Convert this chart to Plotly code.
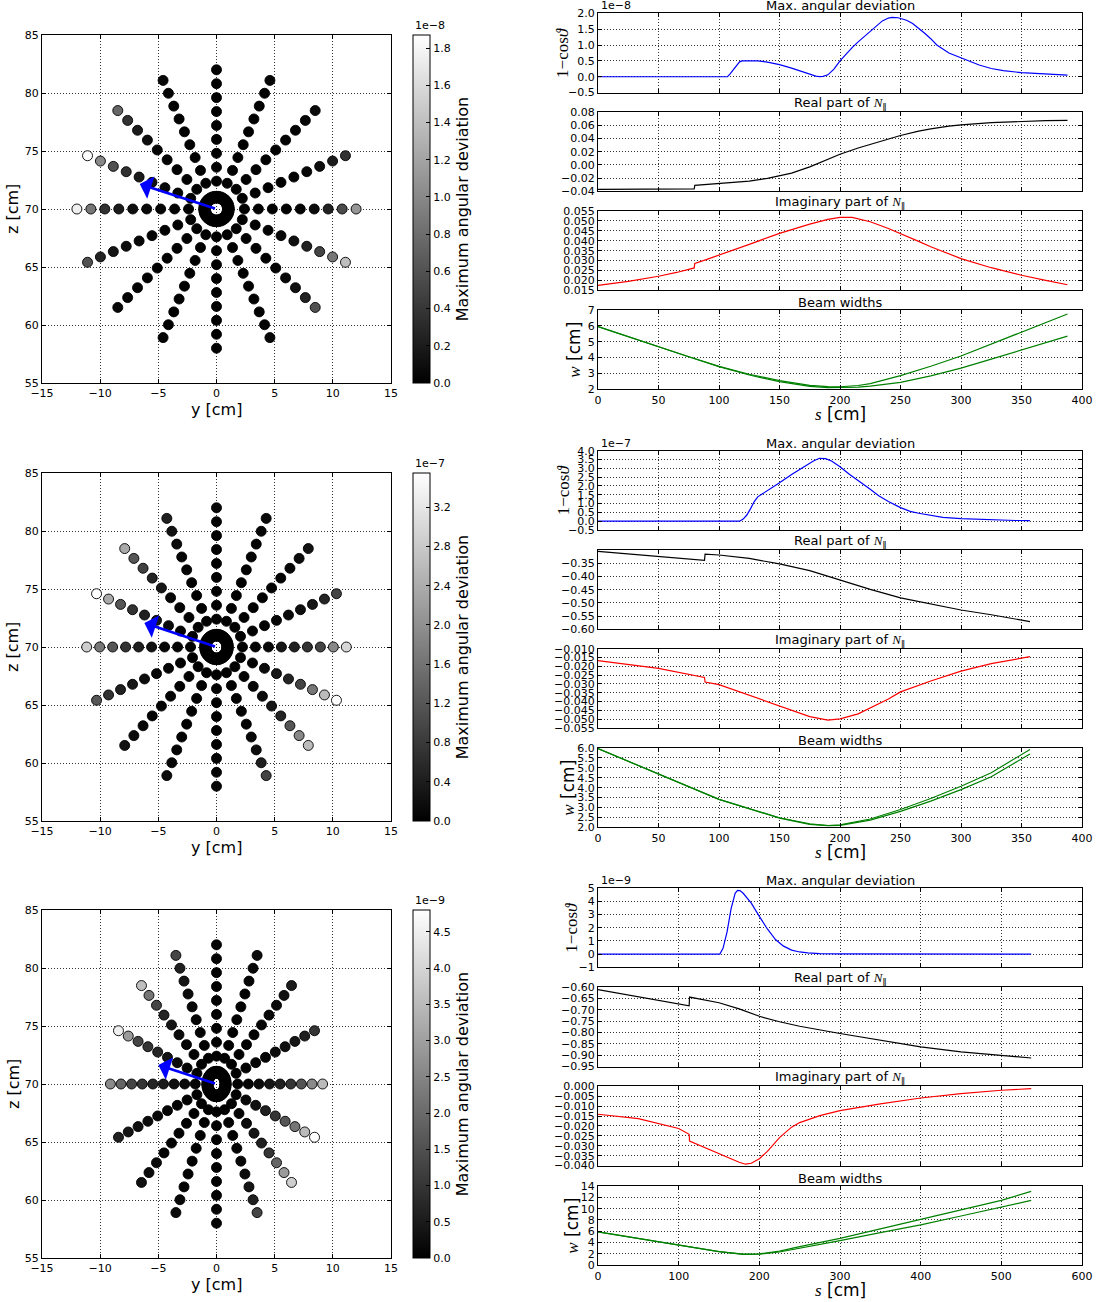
import math
import plotly.graph_objects as go

W, H = 1107, 1302
FONT = "DejaVu Sans"
SERIF = "Liberation Serif"

# ------------------------------------------------------------------ data
# launcher grid (y, z in cm): 16 rays x 9 radii + inner ring
ray_angles_deg = [0, 22.5, 45, 67.5, 90, 112.5, 135, 157.5, 180,
                  202.5, 225, 247.5, 270, 292.5, 315, 337.5]
ray_radii_cm = [2.4, 3.6, 4.8, 6.0, 7.2, 8.4, 9.6, 10.8, 12.0]
ring_radii_cm = [0.95, 1.1]
ring_count = 40
center_y, center_z = 0.0, 70.0
row_y_scale = [1.0, 0.93, 0.76]

# maximum angular deviation per ray point (inner -> outer), in units of the multiplier
dev1 = [  # x 1e-8
    [0, 0, 0, 0, 0.03, 0.08, 0.25, 0.55, 1.1],
    [0, 0, 0, 0, 0.02, 0.05, 0.1, 0.2, 0.37],
    [0, 0, 0, 0, 0, 0.02, 0.03, 0.05, 0.08],
    [0, 0, 0, 0, 0, 0, 0.01, 0.02, 0.04],
    [0, 0, 0, 0, 0, 0, 0, 0.01, 0.02],
    [0, 0, 0, 0, 0, 0.01, 0.02, 0.03, 0.06],
    [0, 0, 0, 0.02, 0.05, 0.1, 0.2, 0.37, 0.75],
    [0, 0.02, 0.06, 0.12, 0.2, 0.35, 0.6, 1.0, 1.87],
    [0, 0.01, 0.03, 0.06, 0.1, 0.2, 0.37, 0.87, 1.75],
    [0, 0, 0.01, 0.02, 0.05, 0.1, 0.15, 0.25, 0.6],
    [0, 0, 0, 0, 0, 0.01, 0.02, 0.03, 0.06],
    [0, 0, 0, 0, 0, 0, 0, 0, 0.02],
    [0, 0, 0, 0, 0, 0, 0, 0, 0],
    [0, 0, 0, 0, 0, 0, 0.01, 0.02, 0.05],
    [0, 0, 0, 0.01, 0.03, 0.06, 0.12, 0.25, 0.6],
    [0, 0, 0.02, 0.05, 0.12, 0.25, 0.5, 0.87, 1.4],
]
dev2 = [  # x 1e-7
    [0.02, 0.05, 0.1, 0.3, 0.45, 0.7, 0.95, 1.9, 3.0],
    [0, 0.02, 0.04, 0.08, 0.12, 0.2, 0.3, 0.5, 0.95],
    [0, 0, 0, 0.02, 0.04, 0.06, 0.1, 0.15, 0.25],
    [0, 0, 0, 0, 0.02, 0.04, 0.06, 0.1, 0.15],
    [0, 0, 0, 0, 0, 0.02, 0.04, 0.06, 0.1],
    [0, 0, 0, 0.02, 0.04, 0.08, 0.15, 0.25, 0.45],
    [0, 0.02, 0.05, 0.1, 0.3, 0.5, 0.9, 1.2, 2.35],
    [0.02, 0.05, 0.15, 0.3, 0.45, 0.7, 1.2, 2.35, 3.55],
    [0.02, 0.05, 0.1, 0.25, 0.45, 0.7, 1.2, 1.65, 2.85],
    [0, 0.02, 0.05, 0.1, 0.18, 0.3, 0.45, 0.7, 1.2],
    [0, 0, 0, 0.02, 0.04, 0.06, 0.1, 0.15, 0.25],
    [0, 0, 0, 0, 0.02, 0.04, 0.06, 0.1, 0.15],
    [0, 0, 0, 0, 0, 0.02, 0.04, 0.06, 0.1],
    [0, 0, 0, 0.02, 0.05, 0.1, 0.2, 0.45, 0.95],
    [0.02, 0.04, 0.08, 0.15, 0.3, 0.5, 1.2, 1.9, 2.6],
    [0.02, 0.05, 0.15, 0.3, 0.5, 0.95, 1.65, 2.6, 3.55],
]
dev3 = [  # x 1e-9
    [0.05, 0.1, 0.2, 0.4, 0.6, 1.0, 1.6, 2.6, 3.5],
    [0, 0.02, 0.05, 0.1, 0.2, 0.3, 0.4, 0.6, 1.0],
    [0, 0, 0.02, 0.05, 0.1, 0.15, 0.2, 0.3, 0.5],
    [0, 0, 0, 0.02, 0.04, 0.06, 0.1, 0.15, 0.2],
    [0, 0, 0, 0, 0.02, 0.04, 0.06, 0.08, 0.1],
    [0, 0.02, 0.05, 0.1, 0.15, 0.25, 0.4, 0.6, 1.3],
    [0.02, 0.05, 0.1, 0.2, 0.4, 0.7, 1.3, 2.2, 3.6],
    [0.05, 0.1, 0.2, 0.4, 0.7, 1.0, 1.3, 2.9, 4.5],
    [0.1, 0.2, 0.3, 0.5, 0.7, 1.0, 1.3, 1.9, 2.6],
    [0, 0.02, 0.05, 0.1, 0.15, 0.2, 0.3, 0.4, 0.6],
    [0, 0, 0.02, 0.04, 0.06, 0.1, 0.15, 0.2, 0.3],
    [0, 0, 0, 0.02, 0.04, 0.06, 0.1, 0.15, 0.2],
    [0, 0, 0, 0, 0.02, 0.04, 0.06, 0.08, 0.1],
    [0, 0.02, 0.05, 0.1, 0.15, 0.25, 0.4, 0.6, 1.3],
    [0.05, 0.1, 0.2, 0.4, 0.6, 1.0, 1.9, 2.9, 3.9],
    [0.05, 0.15, 0.3, 0.6, 1.0, 1.6, 2.2, 3.5, 4.8],
]
dev_rows = [dev1, dev2, dev3]
dev_max = [1.87, 3.55, 4.8]
dev_exponent = ["1e\u22128", "1e\u22127", "1e\u22129"]
cbar_ticks = [
    [0.0, 0.2, 0.4, 0.6, 0.8, 1.0, 1.2, 1.4, 1.6, 1.8],
    [0.0, 0.4, 0.8, 1.2, 1.6, 2.0, 2.4, 2.8, 3.2],
    [0.0, 0.5, 1.0, 1.5, 2.0, 2.5, 3.0, 3.5, 4.0, 4.5],
]
arrow_tip_y = [-6.6, -6.2, -5.0]
arrow_tip_z = [72.15, 72.07, 71.64]
grid_y_ticks = [-15, -10, -5, 0, 5, 10, 15]
grid_z_ticks = [55, 60, 65, 70, 75, 80, 85]

# --- row 1 traces (s in cm)
ang1_s = [0, 107, 109, 111, 113, 115, 117, 119, 125, 132, 140, 150, 160, 170, 176, 180, 183, 186,
          190, 195, 200, 205, 210, 215, 220, 225, 230, 235, 240, 243, 248, 255, 260, 266, 270, 275,
          280, 290, 300, 306, 315, 325, 335, 350, 365, 380, 388]
ang1_v = [0, 0, 0.08, 0.18, 0.3, 0.4, 0.47, 0.5, 0.51, 0.5, 0.46, 0.38, 0.27, 0.14, 0.06, 0.02, 0.005,
          0.01, 0.06, 0.24, 0.5, 0.72, 0.92, 1.1, 1.27, 1.45, 1.62, 1.76, 1.85, 1.87, 1.86, 1.78, 1.68,
          1.5, 1.37, 1.2, 1.0, 0.75, 0.6, 0.5, 0.37, 0.26, 0.19, 0.13, 0.09, 0.06, 0.05]
re1_s = [0, 40, 79.5, 80, 90, 100, 110, 125, 140, 150, 160, 175, 190, 200, 215, 225, 240, 250, 265,
         275, 290, 300, 325, 350, 370, 388]
re1_v = [-0.037, -0.0368, -0.0362, -0.031, -0.0297, -0.0285, -0.0272, -0.0245, -0.0205, -0.017,
         -0.0125, -0.003, 0.0085, 0.016, 0.0255, 0.031, 0.0395, 0.0445, 0.051, 0.0545, 0.0585, 0.0605,
         0.064, 0.066, 0.0668, 0.0672]
im1_s = [0, 25, 50, 65, 79.5, 80, 90, 100, 125, 150, 175, 190, 200, 210, 225, 240, 250, 265, 275,
         290, 300, 325, 350, 370, 388]
im1_v = [0.0175, 0.0195, 0.0221, 0.024, 0.0263, 0.0286, 0.0306, 0.0327, 0.0382, 0.0437, 0.0484,
         0.0508, 0.0518, 0.0518, 0.0496, 0.0462, 0.0437, 0.0397, 0.037, 0.0333, 0.031, 0.0264,
         0.0226, 0.02, 0.0178]
bw1_s = [0, 25, 50, 75, 100, 125, 150, 175, 190, 200, 215, 225, 250, 275, 300, 325, 350, 370, 388]
bw1_a = [5.95, 5.3, 4.69, 4.05, 3.45, 2.95, 2.55, 2.25, 2.17, 2.16, 2.24, 2.36, 2.86, 3.45, 4.1,
         4.85, 5.6, 6.2, 6.75]
bw1_b = [5.95, 5.3, 4.69, 4.05, 3.43, 2.9, 2.48, 2.18, 2.1, 2.1, 2.14, 2.2, 2.44, 2.85, 3.34, 3.9,
         4.48, 4.92, 5.35]

# --- row 2
ang2_s = [0, 117, 120, 123, 126, 129, 132, 136, 140, 150, 160, 170, 178, 183, 188, 193, 200, 208,
          215, 225, 232, 240, 250, 258, 265, 275, 285, 300, 315, 330, 345, 357]
ang2_v = [0, 0, 0.12, 0.35, 0.7, 1.1, 1.38, 1.55, 1.72, 2.18, 2.65, 3.1, 3.42, 3.57, 3.55, 3.42,
          3.09, 2.65, 2.32, 1.81, 1.45, 1.12, 0.77, 0.56, 0.45, 0.32, 0.22, 0.15, 0.1, 0.06, 0.04,
          0.03]
re2_s = [0, 50, 88, 88.5, 100, 125, 150, 175, 200, 225, 250, 275, 300, 325, 357]
re2_v = [-0.305, -0.324, -0.339, -0.316, -0.319, -0.332, -0.3525, -0.378, -0.414, -0.449, -0.481,
         -0.504, -0.527, -0.545, -0.571]
im2_s = [0, 50, 88, 88.5, 100, 125, 150, 175, 190, 200, 215, 225, 240, 250, 275, 300, 325, 357]
im2_v = [-0.0168, -0.0212, -0.0263, -0.0289, -0.0304, -0.0365, -0.0425, -0.0485, -0.0505, -0.0498,
         -0.047, -0.0437, -0.0385, -0.0345, -0.0283, -0.0227, -0.0185, -0.0145]
bw2_s = [0, 50, 100, 150, 175, 190, 200, 225, 250, 275, 300, 325, 357]
bw2_a = [5.97, 4.67, 3.41, 2.48, 2.17, 2.09, 2.12, 2.42, 2.9, 3.45, 4.07, 4.75, 5.93]
bw2_b = [5.97, 4.67, 3.41, 2.46, 2.15, 2.08, 2.1, 2.36, 2.8, 3.32, 3.9, 4.55, 5.7]

# --- row 3
ang3_s = [0, 151, 155, 160, 165, 170, 173, 176, 180, 185, 190, 200, 210, 220, 230, 240, 250, 260,
          275, 300, 350, 537]
ang3_v = [0, 0, 0.43, 1.68, 3.44, 4.6, 4.82, 4.8, 4.6, 4.25, 3.85, 2.85, 1.9, 1.1, 0.6, 0.3, 0.16,
          0.09, 0.04, 0.015, 0, 0]
re3_s = [0, 50, 100, 113, 113.5, 130, 150, 175, 200, 225, 250, 300, 350, 400, 450, 500, 537]
re3_v = [-0.610, -0.642, -0.673, -0.682, -0.643, -0.654, -0.668, -0.695, -0.728, -0.752, -0.772,
         -0.804, -0.835, -0.863, -0.885, -0.901, -0.912]
im3_s = [0, 50, 100, 113, 113.5, 130, 150, 165, 175, 183, 190, 200, 210, 225, 240, 250, 275, 300,
         350, 400, 450, 500, 537]
im3_v = [-0.0141, -0.0163, -0.0213, -0.0242, -0.0276, -0.0305, -0.034, -0.0367, -0.0383, -0.0393,
         -0.0388, -0.0365, -0.0328, -0.0259, -0.0206, -0.0183, -0.0148, -0.0123, -0.0089, -0.0059,
         -0.0037, -0.002, -0.0012]
bw3_s = [0, 50, 100, 150, 180, 200, 225, 250, 300, 350, 400, 450, 500, 537]
bw3_a = [5.9, 4.7, 3.54, 2.42, 1.98, 2.02, 2.5, 3.3, 4.75, 6.45, 8.15, 9.8, 11.46, 13.05]
bw3_b = [5.9, 4.7, 3.54, 2.4, 1.93, 1.98, 2.35, 3.0, 4.37, 5.78, 7.15, 8.7, 10.28, 11.46]

# tick values / ranges for the right-hand panels
s_ticks = [[0, 50, 100, 150, 200, 250, 300, 350, 400],
           [0, 50, 100, 150, 200, 250, 300, 350, 400],
           [0, 100, 200, 300, 400, 500, 600]]
s_range = [[0, 400], [0, 400], [0, 600]]
ang_ticks = [[-0.5, 0.0, 0.5, 1.0, 1.5, 2.0],
             [-0.5, 0.0, 0.5, 1.0, 1.5, 2.0, 2.5, 3.0, 3.5, 4.0],
             [-1, 0, 1, 2, 3, 4, 5]]
re_ticks = [[-0.04, -0.02, 0.0, 0.02, 0.04, 0.06, 0.08],
            [-0.60, -0.55, -0.50, -0.45, -0.40, -0.35],
            [-0.95, -0.90, -0.85, -0.80, -0.75, -0.70, -0.65, -0.60]]
im_ticks = [[0.015, 0.020, 0.025, 0.030, 0.035, 0.040, 0.045, 0.050, 0.055],
            [-0.055, -0.050, -0.045, -0.040, -0.035, -0.030, -0.025, -0.020, -0.015, -0.010],
            [-0.040, -0.035, -0.030, -0.025, -0.020, -0.015, -0.010, -0.005, 0.000]]
bw_ticks = [[2, 3, 4, 5, 6, 7],
            [2.0, 2.5, 3.0, 3.5, 4.0, 4.5, 5.0, 5.5, 6.0],
            [0, 2, 4, 6, 8, 10, 12, 14]]
ang_range = [[-0.5, 2.0], [-0.5, 4.0], [-1, 5]]
re_range = [[-0.04, 0.08], [-0.60, -0.30], [-0.95, -0.60]]
im_range = [[0.015, 0.055], [-0.055, -0.010], [-0.040, 0.000]]
bw_range = [[2, 7], [2.0, 6.0], [0, 14]]
ang_dec = [1, 1, 0]
re_dec = [2, 2, 2]
im_dec = [3, 3, 3]
bw_dec = [0, 1, 0]

rows_lines = [
    (ang1_s, ang1_v, re1_s, re1_v, im1_s, im1_v, bw1_s, bw1_a, bw1_b),
    (ang2_s, ang2_v, re2_s, re2_v, im2_s, im2_v, bw2_s, bw2_a, bw2_b),
    (ang3_s, ang3_v, re3_s, re3_v, im3_s, im3_v, bw3_s, bw3_a, bw3_b),
]

# ------------------------------------------------------------------ layout helpers
def px2x(p):
    return p / W


def px2y(p):
    return 1 - p / H


def fmt(v, d):
    s = f"{v:.{d}f}"
    if s.startswith("-") and float(s) == 0:
        s = s[1:]
    return s.replace("-", "\u2212")


layout = {}
annotations = []
counter = [0]
TICKFONT = dict(family=FONT, size=11, color="black")


def new_axes(x0, x1, y0, y1, xkw, ykw):
    counter[0] += 1
    i = counter[0]
    xn, yn = ("xaxis", "yaxis") if i == 1 else (f"xaxis{i}", f"yaxis{i}")
    xr, yr = ("x", "y") if i == 1 else (f"x{i}", f"y{i}")
    common = dict(showline=True, linecolor="black", linewidth=1, mirror="allticks",
                  ticks="inside", ticklen=4, tickcolor="black", showgrid=True,
                  gridcolor="rgba(0,0,0,0.8)", griddash="1px,2px", gridwidth=0.8,
                  zeroline=False, automargin=False, tickfont=TICKFONT, fixedrange=True)
    xd = dict(common)
    xd.update(xkw)
    xd.update(domain=[px2x(x0), px2x(x1)], anchor=yr)
    yd = dict(common)
    yd.update(ykw)
    yd.update(domain=[px2y(y1), px2y(y0)], anchor=xr)
    layout[xn] = xd
    layout[yn] = yd
    return xr, yr


fig = go.Figure()
gray = [[0, "black"], [1, "white"]]

scatter_top = [35, 473, 910]
scatter_bot = [383, 821, 1258]
SC_L, SC_R = 42, 391
CB_L = 413

panel_tops = [[13.3, 112, 211, 310], [450.7, 550, 648.7, 748], [888, 987.3, 1086.3, 1186]]
PH = 79.3
RP_L, RP_R = 598, 1082
cos_label_x = [563, 563, 572]
w_label_x = [574, 568, 572]
NPAR = ("<span style='font-family:Liberation Serif'><i>N</i></span>"
        "<sub><span style='font-family:DejaVu Sans'>\u2016</span></sub>")

for row in range(3):
    top, bot = scatter_top[row], scatter_bot[row]
    xr, yr = new_axes(
        SC_L, SC_R, top, bot,
        dict(range=[-15, 15], tickvals=grid_y_ticks, ticktext=[fmt(v, 0) for v in grid_y_ticks]),
        dict(range=[55, 85], tickvals=grid_z_ticks, ticktext=[fmt(v, 0) for v in grid_z_ticks]),
    )
    ys, zs, cs = [], [], []
    sc = row_y_scale[row]
    for rr in ring_radii_cm:
        for k in range(ring_count):
            a = 2 * math.pi * k / ring_count
            ys.append(center_y + sc * rr * math.cos(a))
            zs.append(center_z + rr * math.sin(a))
            cs.append(0.0)
    for ang, vals in zip(ray_angles_deg, dev_rows[row]):
        a = math.radians(ang)
        for rr, v in zip(ray_radii_cm, vals):
            ys.append(center_y + sc * rr * math.cos(a))
            zs.append(center_z + rr * math.sin(a))
            cs.append(v)
    fig.add_trace(go.Scatter(
        x=ys, y=zs, mode="markers", xaxis=xr, yaxis=yr, showlegend=False, hoverinfo="skip",
        marker=dict(size=10, color=cs, colorscale=gray, cmin=0, cmax=dev_max[row],
                    line=dict(color="black", width=0.9), showscale=True,
                    colorbar=dict(
                        x=px2x(CB_L), xanchor="left", y=px2y((top + bot) / 2), yanchor="middle",
                        len=bot - top, lenmode="pixels", thickness=17, thicknessmode="pixels",
                        xpad=0, ypad=0, outlinewidth=1, outlinecolor="black",
                        tickvals=cbar_ticks[row], ticktext=[fmt(v, 1) for v in cbar_ticks[row]],
                        ticks="inside", ticklen=4, tickcolor="black", tickfont=TICKFONT,
                        title=dict(text="Maximum angular deviation", side="right",
                                   font=dict(family=FONT, size=16, color="black")),
                    )),
    ))
    # arrow (beam direction)
    annotations.append(dict(x=arrow_tip_y[row], y=arrow_tip_z[row], ax=center_y, ay=center_z,
                            xref=xr, yref=yr, axref=xr, ayref=yr, text="", showarrow=True,
                            arrowhead=1, arrowsize=1.5, arrowwidth=2.6, arrowcolor="#0000ff",
                            standoff=0, startstandoff=0))
    # multiplier over colorbar
    annotations.append(dict(x=px2x(CB_L), y=px2y(top - 1), xref="paper", yref="paper",
                            xanchor="left", yanchor="bottom", showarrow=False,
                            text=dev_exponent[row], font=TICKFONT))
    # axis titles
    annotations.append(dict(x=px2x((SC_L + SC_R) / 2), y=px2y(bot + 26), xref="paper", yref="paper",
                            xanchor="center", yanchor="middle", showarrow=False, text="y [cm]",
                            font=dict(family=FONT, size=16, color="black")))
    annotations.append(dict(x=px2x(13), y=px2y((top + bot) / 2), xref="paper", yref="paper",
                            xanchor="center", yanchor="middle", showarrow=False, text="z [cm]",
                            textangle=-90, font=dict(family=FONT, size=16, color="black")))

    # ------------- right-hand panels
    (a_s, a_v, r_s, r_v, i_s, i_v, b_s, b_a, b_b) = rows_lines[row]
    specs = [
        ("Max. angular deviation", a_s, [a_v], "#0000ff", ang_ticks[row], ang_range[row], ang_dec[row]),
        ("Real part of " + NPAR, r_s, [r_v], "black", re_ticks[row], re_range[row], re_dec[row]),
        ("Imaginary part of " + NPAR, i_s, [i_v], "#ff0000", im_ticks[row], im_range[row], im_dec[row]),
        ("Beam widths", b_s, [b_a, b_b], "#008000", bw_ticks[row], bw_range[row], bw_dec[row]),
    ]
    for k, (title, sx, vlist, col, yt, yrng, dec) in enumerate(specs):
        pt = panel_tops[row][k]
        pb = pt + PH
        last = (k == 3)
        xr2, yr2 = new_axes(
            RP_L, RP_R, pt, pb,
            dict(range=s_range[row], tickvals=s_ticks[row],
                 ticktext=[fmt(v, 0) for v in s_ticks[row]], showticklabels=last),
            dict(range=yrng, tickvals=yt, ticktext=[fmt(v, dec) for v in yt]),
        )
        for vv in vlist:
            fig.add_trace(go.Scatter(x=sx, y=vv, mode="lines", xaxis=xr2, yaxis=yr2,
                                     line=dict(color=col, width=1.2), showlegend=False,
                                     hoverinfo="skip"))
        annotations.append(dict(x=px2x((RP_L + RP_R) / 2), y=px2y(pt + 2), xref="paper",
                                yref="paper", xanchor="center", yanchor="bottom", showarrow=False,
                                text=title, font=dict(family=FONT, size=13, color="black")))
        if k == 0:
            annotations.append(dict(x=px2x(RP_L + 1), y=px2y(pt + 1), xref="paper", yref="paper",
                                    xanchor="left", yanchor="bottom", showarrow=False,
                                    text=dev_exponent[row], font=TICKFONT))
            annotations.append(dict(x=px2x(cos_label_x[row]), y=px2y((pt + pb) / 2), xref="paper",
                                    yref="paper", xanchor="center", yanchor="middle",
                                    showarrow=False, textangle=-90,
                                    text="1\u2212cos<i>\u03d1</i>",
                                    font=dict(family=SERIF, size=17, color="black")))
        if last:
            annotations.append(dict(x=px2x(w_label_x[row]), y=px2y((pt + pb) / 2), xref="paper",
                                    yref="paper", xanchor="center", yanchor="middle",
                                    showarrow=False, textangle=-90,
                                    text="<span style='font-family:Liberation Serif'><i>w</i></span> [cm]",
                                    font=dict(family=FONT, size=17, color="black")))
            annotations.append(dict(x=px2x((RP_L + RP_R) / 2), y=px2y(pb + 25), xref="paper",
                                    yref="paper", xanchor="center", yanchor="middle",
                                    showarrow=False,
                                    text="<span style='font-family:Liberation Serif'><i>s</i></span> [cm]",
                                    font=dict(family=FONT, size=17, color="black")))

layout.update(
    width=W, height=H, margin=dict(l=0, r=0, t=0, b=0),
    paper_bgcolor="white", plot_bgcolor="white",
    font=dict(family=FONT, color="black"),
    annotations=annotations, showlegend=False,
)
fig.update_layout(**layout)
fig.write_html("out.html", config={"displayModeBar": False},
               post_script="document.body.style.margin='0px';document.body.style.overflow='hidden';")
